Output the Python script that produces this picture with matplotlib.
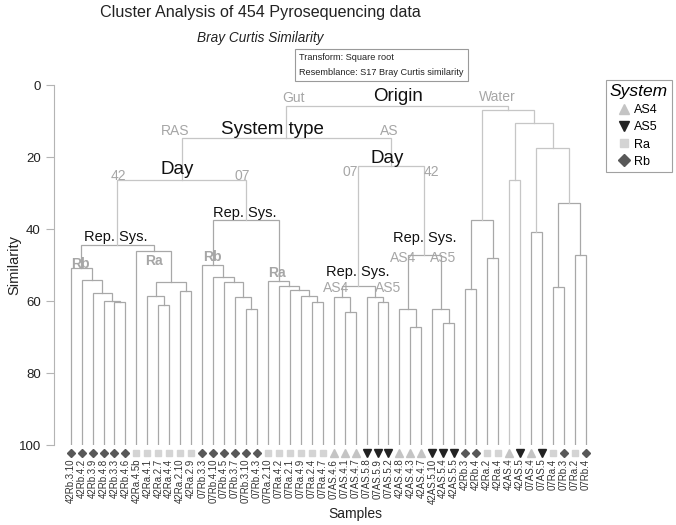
import matplotlib
matplotlib.use("Agg")
import matplotlib.pyplot as plt
import matplotlib.lines as mlines
from matplotlib import font_manager as fm

# font: Arial-like
installed = {f.name for f in fm.fontManager.ttflist}
fam = [f for f in ["Liberation Sans", "DejaVu Sans"] if f in installed]
plt.rcParams["font.family"] = fam

# leaves, left to right
samples = ["42Rb.3.10", "42Rb.4.2", "42Rb.3.9", "42Rb.4.8", "42Rb.3.3", "42Rb.4.6",
           "42Ra.4.5b", "42Ra.4.1", "42Ra.2.7", "42Ra.4.4", "42Ra.2.10", "42Ra.2.9",
           "07Rb.3.3", "07Rb.4.10", "07Rb.4.5", "07Rb.3.7", "07Rb.3.10", "07Rb.4.3",
           "07Ra.2.10", "07Ra.4.2", "07Ra.2.1", "07Ra.4.9", "07Ra.2.4", "07Ra.4.7",
           "07AS.4.6", "07AS.4.1", "07AS.4.7", "07AS.5.8", "07AS.5.9", "07AS.5.2",
           "42AS.4.8", "42AS.4.3", "42AS.4.7", "42AS.5.10", "42AS.5.4", "42AS.5.5",
           "42Rb.3", "42Rb.4", "42Ra.2", "42Ra.4", "42AS.4", "42AS.5",
           "07AS.4", "07AS.5", "07Ra.4", "07Rb.3", "07Ra.2", "07Rb.4"]
system = ["Rb"] * 6 + ["Ra"] * 6 + ["Rb"] * 6 + ["Ra"] * 6 + ["AS4"] * 3 + ["AS5"] * 3 \
    + ["AS4"] * 3 + ["AS5"] * 3 + ["Rb", "Rb", "Ra", "Ra", "AS4", "AS5",
                                   "AS4", "AS5", "Ra", "Rb", "Ra", "Rb"]

# merges: ids 0-47 are leaves, merge k gets id 48 + k
merge_left = [4, 3, 2, 1, 0,
              8, 7, 10, 54, 6, 52,
              16, 15, 14, 13, 12,
              22, 21, 20, 19, 18, 63, 58,
              25, 24, 28, 27, 72,
              31, 30, 34, 33, 77, 75, 70,
              36, 38, 83, 40, 42, 44, 46, 88, 87, 86, 85, 82]
merge_right = [5, 48, 49, 50, 51,
               9, 53, 11, 55, 56, 57,
               17, 59, 60, 61, 62,
               23, 64, 65, 66, 67, 68, 69,
               26, 71, 29, 73, 74,
               32, 76, 35, 78, 79, 80, 81,
               37, 39, 84, 41, 43, 45, 47, 89, 90, 91, 92, 93]
merge_sim = [60.2, 59.9, 57.9, 54.3, 50.8,
             61.2, 58.6, 57.3, 54.8, 46.1, 44.5,
             62.2, 59.0, 54.6, 53.2, 50.0,
             60.4, 58.5, 56.9, 55.7, 54.4, 37.5, 26.4,
             63.1, 58.8, 60.4, 58.9, 55.7,
             67.1, 62.2, 66.0, 62.3, 47.2, 22.5, 14.6,
             56.7, 48.0, 37.5, 26.4, 40.7, 56.0, 47.2, 32.9, 17.6, 10.6, 6.9, 5.8]

# annotation texts (x in leaf units, y in similarity)
big_txt = ["Origin", "System type", "Day", "Day"]
big_xy = [(29.9, 3.3), (18.4, 12.5), (9.7, 23.6), (28.9, 20.3)]
rep_xy = [(4.1, 42.3), (15.9, 35.5), (26.2, 52.0), (32.3, 42.6)]
grey_txt = ["Gut", "Water", "RAS", "AS", "42", "07", "07", "42", "AS4", "AS5", "AS4", "AS5"]
grey_xy = [(20.3, 3.5), (38.9, 3.25), (9.5, 12.8), (29.1, 12.8), (4.4, 25.3), (15.7, 25.3),
           (25.5, 24.2), (32.9, 24.2), (24.2, 56.5), (29.0, 56.5), (30.35, 48.1), (34.0, 48.1)]
bold_txt = ["Rb", "Ra", "Rb", "Ra"]
bold_xy = [(0.85, 49.8), (7.6, 48.8), (12.9, 47.9), (18.85, 52.3)]

styles = {"AS4": dict(marker="^", color="#c4c4c4", ms=5.2),
          "AS5": dict(marker="v", color="#222222", ms=5.2),
          "Ra": dict(marker="s", color="#d4d4d4", ms=4.6),
          "Rb": dict(marker="D", color="#585858", ms=4.3)}

fig = plt.figure(figsize=(6.76, 5.25), dpi=100)
ax = fig.add_axes([54 / 676, 1 - 445 / 525, 546 / 676, 360 / 525])

n = len(samples)
pos = {i: float(i) for i in range(n)}
hgt = {i: 100.0 for i in range(n)}
for k, (a, b, s) in enumerate(zip(merge_left, merge_right, merge_sim)):
    col = "#c6c6c6" if s < 30 else "#a8a8a8"
    ax.plot([pos[a], pos[a], pos[b], pos[b]], [hgt[a], s, s, hgt[b]],
            color=col, lw=0.9, solid_joinstyle="miter")
    pos[n + k] = (pos[a] + pos[b]) / 2
    hgt[n + k] = s

for i, (name, sys_) in enumerate(zip(samples, system)):
    st = styles[sys_]
    ax.plot(i, 102.3, linestyle="none", marker=st["marker"], color=st["color"],
            markersize=st["ms"], clip_on=False)
    ax.text(i, 103.8, name, rotation=90, ha="center", va="top", fontsize=7, color="#333333")

for t, (x, y) in zip(big_txt, big_xy):
    ax.text(x, y, t, ha="center", va="center", fontsize=13.5, color="#111111")
for x, y in rep_xy:
    ax.text(x, y, "Rep. Sys.", ha="center", va="center", fontsize=10.5, color="#111111")
for t, (x, y) in zip(grey_txt, grey_xy):
    ax.text(x, y, t, ha="center", va="center", fontsize=10, color="#a6a6a6")
for t, (x, y) in zip(bold_txt, bold_xy):
    ax.text(x, y, t, ha="center", va="center", fontsize=10, color="#a6a6a6", fontweight="bold")

ax.set_xlim(-1.52, 48.3)
ax.set_ylim(100, 0)
ax.set_yticks([0, 20, 40, 60, 80, 100])
ax.set_xticks([])
for sp in ["top", "right", "bottom"]:
    ax.spines[sp].set_visible(False)
ax.spines["left"].set_color("#b4b4b4")
ax.tick_params(axis="y", colors="#b4b4b4", labelcolor="#222222", labelsize=9.5, length=6)
ax.set_ylabel("Similarity", fontsize=10.5, color="#222222")
ax.yaxis.set_label_coords(-0.06, 0.5)
fig.text(355 / 676, 1 - 514 / 525, "Samples", ha="center", va="center", fontsize=10, color="#222222")

fig.text(260 / 676, 1 - 13 / 525, "Cluster Analysis of 454 Pyrosequencing data",
         ha="center", va="center", fontsize=11.6, color="#222222")
fig.text(260 / 676, 1 - 38 / 525, "Bray Curtis Similarity", ha="center", va="center",
         fontsize=9.8, style="italic", color="#222222")
fig.text(299 / 676, 1 - 65 / 525, "Transform: Square root\nResemblance: S17 Bray Curtis similarity",
         ha="left", va="center", fontsize=6.6, color="#222222", linespacing=1.75,
         bbox=dict(boxstyle="square,pad=0.45", fc="white", ec="#9a9a9a", lw=0.8))

handles = [mlines.Line2D([], [], linestyle="none", marker=styles[k]["marker"], color=styles[k]["color"],
                         markersize=styles[k]["ms"] * 1.35, label=k) for k in ["AS4", "AS5", "Ra", "Rb"]]
leg = fig.legend(handles=handles, title="System", loc="upper left",
                 bbox_to_anchor=(606 / 676, 1 - 80 / 525), bbox_transform=fig.transFigure,
                 fontsize=9, title_fontsize=12.5, fancybox=False, frameon=True,
                 handlelength=0.8, handletextpad=0.4, borderpad=0.3, labelspacing=0.42,
                 borderaxespad=0)
leg.get_title().set_style("italic")
leg.get_frame().set_edgecolor("#8a8a8a")
leg.get_frame().set_linewidth(0.8)

fig.savefig("out.png", dpi=100)
